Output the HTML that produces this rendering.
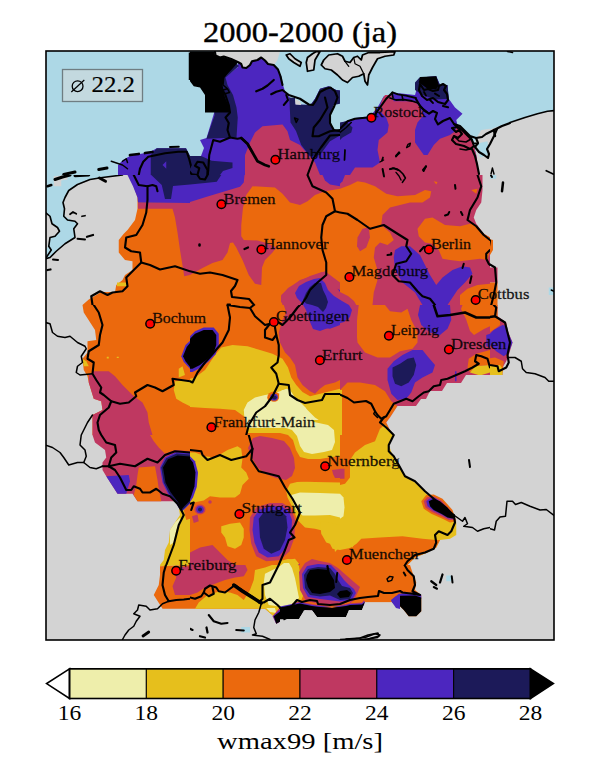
<!DOCTYPE html>
<html><head><meta charset="utf-8"><title>map</title>
<style>html,body{margin:0;padding:0;background:#fff;}svg{display:block;}text{font-family:"Liberation Serif",serif;fill:#000;}</style></head>
<body><svg width="600" height="780" viewBox="0 0 600 780">
<defs><clipPath id="ax"><rect x="46" y="51" width="508" height="589"/></clipPath>
<clipPath id="c40_45"><rect x="40" y="45" width="150" height="130"/></clipPath>
<clipPath id="c40_175"><rect x="40" y="175" width="150" height="130"/></clipPath>
<clipPath id="c40_305"><rect x="40" y="305" width="150" height="130"/></clipPath>
<clipPath id="c40_435"><rect x="40" y="435" width="150" height="130"/></clipPath>
<clipPath id="c40_520"><rect x="40" y="565" width="150" height="85"/></clipPath>
<clipPath id="c190_45"><rect x="190" y="45" width="150" height="130"/></clipPath>
<clipPath id="c190_175"><rect x="190" y="175" width="150" height="130"/></clipPath>
<clipPath id="c190_305"><rect x="190" y="305" width="150" height="130"/></clipPath>
<clipPath id="c190_435"><rect x="190" y="435" width="150" height="130"/></clipPath>
<clipPath id="c190_520"><rect x="190" y="565" width="150" height="85"/></clipPath>
<clipPath id="c340_45"><rect x="340" y="45" width="150" height="130"/></clipPath>
<clipPath id="c340_175"><rect x="340" y="175" width="150" height="130"/></clipPath>
<clipPath id="c340_305"><rect x="340" y="305" width="150" height="130"/></clipPath>
<clipPath id="c340_435"><rect x="340" y="435" width="150" height="130"/></clipPath>
<clipPath id="c340_520"><rect x="340" y="565" width="150" height="85"/></clipPath>
<clipPath id="c450_45"><rect x="490" y="45" width="110" height="130"/></clipPath>
<clipPath id="c450_175"><rect x="490" y="175" width="110" height="130"/></clipPath>
<clipPath id="c450_305"><rect x="490" y="305" width="110" height="130"/></clipPath>
<clipPath id="c450_435"><rect x="490" y="435" width="110" height="130"/></clipPath></defs>
<rect width="600" height="780" fill="#fff"/>
<rect x="46" y="51" width="508" height="589" fill="#d3d3d3"/>
<g clip-path="url(#ax)">
<g clip-path="url(#c40_45)"><g transform="translate(40,45) scale(0.25)">
<rect x="-4" y="-4" width="608" height="528" fill="#add8e6"/>
<polygon points="312,520 312,480 332,460 360,444 440,428 467,413 584,413 600,444 600,520" fill="#4c26bf"/>
<polygon points="443,520 443,440 467,413 584,413 600,444 600,520" fill="#1c1a59"/>
<polygon points="490,480 505,465 505,495" fill="#4c26bf"/>
<polygon points="595,30 600,30 600,140 595,140" fill="#000000"/>
</g></g>
<g clip-path="url(#c40_175)"><g transform="translate(40,175) scale(0.25)">
<rect x="-4" y="-4" width="608" height="528" fill="#d3d3d3"/>
<polygon points="22,0 330,0 260,8 200,18 150,35 115,60 98,90 95,130 100,165 135,185 150,192 135,215 140,250 100,275 60,310 30,335 22,340" fill="#add8e6"/>
<polygon points="22,150 40,165 45,195 70,205 78,225 60,245 40,250 30,290 22,300" fill="#d3d3d3"/>
<polygon points="55,5 110,0 110,18 85,22 85,45 55,45" fill="#d3d3d3"/>
<polygon points="370,0 375,45 390,90 390,135 380,180 350,220 335,235 315,260 315,310 340,340 370,345 370,380 340,400 330,420 305,440 300,468 245,468 195,498 170,520 600,520 600,0" fill="#eb690d"/>
<polygon points="392,110 600,110 600,400 577,405 560,300 550,230 540,170 530,135 392,135" fill="#bf3861"/>
<polygon points="350,0 372,45 390,90 392,110 600,112 600,0" fill="#4c26bf"/>
<polygon points="445,0 487,40 500,96 524,96 532,44 600,38 600,0" fill="#1c1a59"/>
<polygon points="308,430 350,430 350,445 308,445" fill="#e6bf1c"/>
</g></g>
<g clip-path="url(#c40_305)"><g transform="translate(40,305) scale(0.25)">
<rect x="-4" y="-4" width="608" height="528" fill="#d3d3d3"/>
<polygon points="170,0 175,30 220,100 225,140 190,145 190,190 170,215 175,260 190,285 195,310 215,375 245,385 250,420 210,440 210,520 600,520 600,0" fill="#eb690d"/>
<polygon points="195,280 215,265 275,265 300,285 330,320 370,360 410,390 430,430 435,470 450,520 210,520 210,440 250,420 245,385 215,375 195,310" fill="#bf3861"/>
<polygon points="540,305 600,300 600,405 570,390 545,375 535,340" fill="#e6bf1c"/>
<polygon points="555,255 570,245 580,280 555,290" fill="#e6bf1c"/>
<polygon points="582,160 600,143 600,255 575,228 565,205" fill="#4c26bf"/>
<polygon points="587,168 600,152 600,248 582,225 572,205" fill="#000000"/>
<polygon points="170,215 185,225 195,245 175,245" fill="#e6bf1c"/>
<polygon points="267,207 275,207 275,214 267,214" fill="#e6bf1c"/>
<polygon points="307,207 315,207 315,212 307,212" fill="#e6bf1c"/>
</g></g>
<g clip-path="url(#c40_435)"><g transform="translate(40,435) scale(0.25)">
<rect x="-4" y="-4" width="608" height="528" fill="#d3d3d3"/>
<polygon points="210,0 220,30 260,60 265,90 250,110 250,140 265,165 310,235 370,235 390,265 555,265 600,265 600,0" fill="#bf3861"/>
<polygon points="440,0 600,0 600,65 540,60 500,75 475,50 455,25" fill="#eb690d"/>
<polygon points="395,130 460,125 470,180 475,215 485,265 390,265 375,240 385,200 390,160" fill="#eb690d"/>
<polygon points="265,165 355,160 360,185 345,235 310,235" fill="#4c26bf"/>
<polygon points="555,290 600,265 600,520 480,520 495,500 500,460 515,430 520,380 540,350 560,320" fill="#e6bf1c"/>
<polygon points="520,380 540,350 560,330 565,345 545,380 535,430 520,440" fill="#eeeeab"/>
<polygon points="575,300 600,275 600,335 585,340" fill="#eb690d"/>
<polygon points="480,130 500,90 545,68 600,72 600,275 580,295 565,308 545,275 512,235 490,190" fill="#4c26bf"/>
<polygon points="485,130 505,93 547,74 600,78 600,270 580,290 565,304 548,272 516,232 495,190" fill="#1c1a59"/>
<polygon points="492,130 512,97 550,82 600,86 600,262 580,282 566,298 552,268 522,228 502,190" fill="#000000"/>
</g></g>
<g clip-path="url(#c40_520)"><g transform="translate(40,520) scale(0.25)">
<rect x="-4" y="-4" width="608" height="528" fill="#d3d3d3"/>
<polygon points="520,40 545,10 560,0 600,0 600,180 480,185 485,150 500,120 515,80" fill="#e6bf1c"/>
<polygon points="480,185 600,180 600,355 490,355 455,300 475,260 480,220" fill="#eb690d"/>
<polygon points="530,190 600,185 600,300 540,300 530,265 545,230 535,205" fill="#bf3861"/>
</g></g>
<g clip-path="url(#c190_45)"><g transform="translate(190,45) scale(0.25)">
<rect x="-4" y="-4" width="608" height="528" fill="#add8e6"/>
<polygon points="95,26 360,26 350,60 335,82 312,76 300,62 285,50 270,60 245,62 240,80 225,92 210,90 205,75 195,68 165,55 135,45 120,50 100,40" fill="#d3d3d3"/>
<polygon points="192,70 205,76 210,90 225,92 240,80 248,65 270,60 285,50 300,62 312,76 335,80 352,100 365,125 372,160 380,185 400,212 420,212 422,238 482,240 500,215 520,175 555,165 585,180 600,182 600,520 0,520 0,444 44,444 56,412 40,380 66,372 140,128 192,88" fill="#4c26bf"/>
<polygon points="178,66 196,84 142,130 150,160 172,200 186,250 191,290 186,370 66,375 98,283 98,200 120,100" fill="#1c1a59"/>
<polygon points="0,26 97,26 100,40 120,50 135,48 165,58 192,70 165,100 135,130 135,150 130,160 140,210 160,255 160,270 60,270 60,200 40,170 15,165 0,145" fill="#000000"/>
<polygon points="0,444 44,444 87,463 170,470 170,492 132,504 120,520 0,520" fill="#1c1a59"/>
<polygon points="220,520 220,440 240,390 260,350 290,325 370,318 390,345 400,380 440,400 465,430 500,470 520,520" fill="#bf3861"/>
<polygon points="397,210 420,212 422,238 482,240 500,215 520,175 555,165 585,180 600,182 600,362 560,385 520,440 480,445 445,400 424,344 402,310" fill="#1c1a59"/>
<polygon points="600,235 575,240 560,280 565,320 580,340 600,340" fill="#add8e6"/>
<polygon points="420,215 440,225 445,240 422,238" fill="#d3d3d3"/>
</g></g>
<g clip-path="url(#c190_175)"><g transform="translate(190,175) scale(0.25)">
<rect x="-4" y="-4" width="608" height="528" fill="#bf3861"/>
<polygon points="250,45 340,50 370,75 400,110 440,120 470,105 500,80 540,65 600,55 600,520 0,520 0,400 50,372 90,352 130,340 150,310 160,272 172,270 185,290 210,340 235,400 260,435 285,440 288,370 300,340 330,310 345,290 300,270 270,262 215,260 205,245 205,200 212,130 225,80" fill="#eb690d"/>
<polygon points="0,0 218,0 215,30 200,47 67,87 0,108" fill="#4c26bf"/>
<polygon points="0,0 125,0 107,27 60,32 0,38" fill="#1c1a59"/>
<polygon points="530,0 600,0 600,45 560,38 540,22" fill="#4c26bf"/>
<polygon points="370,520 365,480 400,450 440,420 500,400 540,385 560,400 600,430 600,520" fill="#bf3861"/>
<polygon points="420,470 450,440 490,415 530,400 545,420 575,450 600,460 600,520 440,520 425,490" fill="#4c26bf"/>
<polygon points="440,480 470,445 520,420 545,445 555,470 600,490 600,520 455,520" fill="#1c1a59"/>
</g></g>
<g clip-path="url(#c190_305)"><g transform="translate(190,305) scale(0.25)">
<rect x="-4" y="-4" width="608" height="528" fill="#eb690d"/>
<polygon points="0,295 20,290 60,260 100,200 125,170 170,160 230,165 280,180 330,195 370,215 392,250 405,290 425,320 450,348 480,365 520,355 560,345 600,335 600,520 225,520 225,480 215,445 180,420 120,415 60,412 0,408" fill="#e6bf1c"/>
<polygon points="215,420 230,390 260,370 300,360 330,355 360,345 385,335 400,340 420,370 440,390 470,420 500,450 530,470 560,480 575,496 240,496 222,470" fill="#eeeeab"/>
<polygon points="225,514 600,514 600,520 225,520" fill="#eb690d"/>
<polygon points="375,0 385,30 370,60 355,110 360,150 380,190 400,210 420,240 430,290 450,320 480,345 500,355 520,335 540,320 580,310 600,300 600,0" fill="#bf3861"/>
<polygon points="480,0 600,0 600,80 560,95 520,90 490,70 480,40" fill="#4c26bf"/>
<polygon points="510,0 545,0 535,15 520,12" fill="#1c1a59"/>
<polygon points="0,125 20,105 55,90 95,90 115,115 115,160 102,198 75,225 45,250 10,268 0,268" fill="#4c26bf"/>
<polygon points="0,135 20,115 55,100 90,100 105,120 105,160 95,190 70,215 40,240 10,255 0,255" fill="#000000"/>
<ellipse cx="335" cy="370" rx="26" ry="24" fill="#eb690d" transform="rotate(0 335 370)"/>
<ellipse cx="335" cy="370" rx="19" ry="17" fill="#4c26bf" transform="rotate(0 335 370)"/>
<ellipse cx="335" cy="372" rx="12" ry="10" fill="#1c1a59" transform="rotate(0 335 372)"/>
</g></g>
<g clip-path="url(#c190_435)"><g transform="translate(190,435) scale(0.25)">
<rect x="-4" y="-4" width="608" height="528" fill="#eb690d"/>
<polygon points="20,70 60,85 100,90 150,60 190,45 205,55 210,95 205,130 225,150 235,175 210,200 200,235 180,250 120,250 80,245 55,262 25,268 0,275 0,70" fill="#e6bf1c"/>
<polygon points="395,0 600,0 600,110 560,105 520,110 470,100 440,110 420,90 410,50" fill="#e6bf1c"/>
<polygon points="425,0 580,0 575,40 560,70 500,85 460,75 440,50" fill="#eeeeab"/>
<polygon points="385,225 400,195 440,185 500,188 600,190 600,460 570,455 552,420 540,385 500,375 460,370 430,340 410,290 390,250" fill="#e6bf1c"/>
<polygon points="405,240 440,230 520,232 600,235 600,330 560,320 500,322 450,322 425,300 410,265" fill="#eeeeab"/>
<polygon points="520,345 560,350 600,360 600,420 575,440 545,430 525,395" fill="#e6bf1c"/>
<polygon points="125,365 160,355 200,350 215,375 215,410 205,440 180,455 150,445 140,410 125,390" fill="#e6bf1c"/>
<polygon points="360,520 380,500 420,495 440,520" fill="#e6bf1c"/>
<polygon points="245,20 280,5 340,5 390,30 410,70 415,130 400,165 360,170 310,150 275,130 255,90 240,55" fill="#bf3861"/>
<polygon points="240,330 265,290 320,272 370,272 405,295 420,340 418,410 398,465 362,500 305,505 265,485 245,435 238,380" fill="#bf3861"/>
<polygon points="255,330 275,300 320,285 365,285 395,305 408,340 405,400 385,450 355,485 310,490 275,470 258,430 250,380" fill="#4c26bf"/>
<polygon points="275,335 295,310 330,300 365,305 385,325 390,370 380,420 360,460 325,475 295,455 280,410" fill="#1c1a59"/>
<polygon points="0,85 20,105 32,150 27,208 12,250 0,268" fill="#4c26bf"/>
<polygon points="0,95 12,110 22,150 18,205 5,245 0,258" fill="#000000"/>
<ellipse cx="40" cy="298" rx="22" ry="20" fill="#bf3861" transform="rotate(0 40 298)"/>
<ellipse cx="40" cy="298" rx="15" ry="14" fill="#4c26bf" transform="rotate(0 40 298)"/>
<ellipse cx="40" cy="298" rx="8" ry="8" fill="#1c1a59" transform="rotate(0 40 298)"/>
<ellipse cx="80" cy="268" rx="7" ry="7" fill="#bf3861" transform="rotate(0 80 268)"/>
<polygon points="8,325 30,318 35,345 15,352" fill="#bf3861"/>
<polygon points="0,470 40,450 90,440 120,470 150,500 180,520 0,520" fill="#bf3861"/>
<polygon points="565,140 600,135 600,165 575,160" fill="#bf3861"/>
<polygon points="430,520 460,500 520,505 540,520" fill="#bf3861"/>
</g></g>
<g clip-path="url(#c190_520)"><g transform="translate(190,520) scale(0.25)">
<rect x="-4" y="-4" width="608" height="528" fill="#d3d3d3"/>
<polygon points="0,0 600,0 600,385 510,385 490,362 460,360 440,385 380,395 345,415 335,385 300,355 0,355" fill="#eb690d"/>
<polygon points="0,120 20,120 50,100 80,95 100,120 120,140 170,150 215,165 230,200 215,225 180,230 140,240 100,255 60,270 30,290 0,300" fill="#bf3861"/>
<polygon points="125,30 150,10 210,5 215,40 205,75 190,100 165,105 150,70 130,55" fill="#e6bf1c"/>
<polygon points="20,355 35,330 70,300 120,285 160,290 190,300 215,320 240,280 255,240 260,200 300,190 370,165 400,170 420,200 430,240 440,290 440,330 400,340 360,365 335,385 300,355" fill="#e6bf1c"/>
<polygon points="300,215 330,200 370,180 395,185 405,220 415,260 425,300 420,325 390,340 350,345 315,340 300,300 295,250" fill="#eeeeab"/>
<polygon points="305,352 340,352 345,372 320,368" fill="#eeeeab"/>
<polygon points="235,0 420,0 415,60 400,120 370,155 320,160 270,145 245,100 235,50" fill="#bf3861"/>
<polygon points="255,0 410,0 405,60 390,110 360,145 320,150 280,130 260,90 255,40" fill="#4c26bf"/>
<polygon points="280,0 400,0 395,50 380,100 355,135 325,140 300,115 285,70" fill="#1c1a59"/>
<polygon points="440,0 600,0 600,135 585,130 575,80 560,45 500,35 460,40" fill="#e6bf1c"/>
<polygon points="445,215 480,185 540,178 575,172 600,168 600,330 540,330 490,318 455,290 442,250" fill="#bf3861"/>
<polygon points="453,215 485,192 540,186 575,180 600,176 600,322 545,322 495,310 462,285 450,250" fill="#4c26bf"/>
<polygon points="460,213 490,198 540,193 575,187 600,183 600,314 548,314 498,303 468,280 458,250" fill="#1c1a59"/>
<polygon points="470,212 500,198 540,202 560,215 575,197 600,192 600,302 560,302 520,306 490,292 470,262" fill="#000000"/>
<polygon points="330,385 355,355 400,328 440,316 500,318 560,326 600,330 600,385 510,385 490,362 460,360 440,385 380,395 345,415" fill="#bf3861"/>
<polygon points="332,385 358,360 400,334 440,323 500,325 560,332 600,336 600,385 510,385 490,362 460,360 440,385 380,395 345,415" fill="#4c26bf"/>
<polygon points="335,385 360,366 400,341 440,331 500,334 560,340 600,345 600,385 510,385 490,362 460,360 440,385 380,395 345,415" fill="#000000"/>
<polygon points="205,428 240,428 240,450 205,450" fill="#add8e6"/>
</g></g>
<g clip-path="url(#c340_45)"><g transform="translate(340,45) scale(0.25)">
<rect x="-4" y="-4" width="608" height="528" fill="#add8e6"/>
<polygon points="565,340 600,335 600,520 550,520 545,440 540,380" fill="#d3d3d3"/>
<polygon points="545,395 590,385 595,440 560,450" fill="#add8e6"/>
<polygon points="0,312 25,305 60,292 120,285 150,250 175,205 200,200 210,190 300,200 320,130 385,125 400,160 430,160 435,215 460,250 490,275 465,300 470,320 500,345 520,370 535,400 545,440 555,520 0,520" fill="#4c26bf"/>
<polygon points="0,310 25,305 50,330 45,350 10,370 0,380" fill="#1c1a59"/>
<polygon points="170,215 180,200 205,200 215,225 300,225 320,250 335,280 310,310 300,340 300,390 335,440 350,440 375,400 400,375 440,360 460,345 470,320 500,345 520,370 535,400 545,440 555,520 40,520 60,490 130,490 160,470 150,420 155,380 190,350 195,320 185,290 155,260" fill="#bf3861"/>
<polygon points="318,130 385,125 400,160 430,160 435,215 380,218 330,200 300,180 300,150" fill="#1c1a59"/>
<polygon points="320,128 385,125 395,160 385,178 350,175 330,160 315,150" fill="#000000"/>
</g></g>
<g clip-path="url(#c340_175)"><g transform="translate(340,175) scale(0.25)">
<rect x="-4" y="-4" width="608" height="528" fill="#bf3861"/>
<polygon points="570,0 600,0 600,250 575,235 545,195 535,170 545,140 565,110 570,60" fill="#d3d3d3"/>
<polygon points="0,55 40,40 70,25 100,30 140,45 185,75 230,85 300,80 340,60 365,65 360,90 330,110 280,110 240,120 200,130 170,160 165,200 200,230 215,260 190,280 160,270 140,290 135,330 150,380 150,420 135,470 130,520 0,520" fill="#eb690d"/>
<polygon points="70,250 90,215 115,210 120,250 105,290 80,305 68,285" fill="#bf3861"/>
<polygon points="310,215 340,175 370,170 420,200 480,205 520,195 545,200 575,235 600,250 600,300 590,340 560,335 520,340 480,345 440,340 410,335 395,300 370,275 340,270 315,245" fill="#eb690d"/>
<polygon points="480,520 480,480 510,455 550,440 600,435 600,520" fill="#eb690d"/>
<polygon points="220,300 245,285 280,285 320,320 340,360 360,400 385,440 410,410 450,380 490,365 520,370 530,395 500,430 470,460 450,490 430,520 330,520 300,470 250,430 220,380 215,330" fill="#4c26bf"/>
<polygon points="0,0 20,0 10,25 0,35" fill="#4c26bf"/>
<polygon points="375,25 390,28 385,38" fill="#eb690d"/>
<polygon points="525,60 550,55 545,75" fill="#eb690d"/>
</g></g>
<g clip-path="url(#c340_305)"><g transform="translate(340,305) scale(0.25)">
<rect x="-4" y="-4" width="608" height="528" fill="#bf3861"/>
<polygon points="75,0 180,0 200,25 245,30 270,15 285,60 310,110 310,150 290,175 240,185 200,210 150,210 100,190 70,150 65,100 70,40" fill="#eb690d"/>
<polygon points="490,0 600,0 600,85 576,96 536,120 520,104 504,56 484,16" fill="#eb690d"/>
<polygon points="0,340 30,310 80,310 140,320 180,345 205,385 230,405 200,450 185,470 200,500 215,520 0,520" fill="#eb690d"/>
<polygon points="0,340 8,340 8,520 0,520" fill="#e6bf1c"/>
<polygon points="515,215 545,195 600,180 600,240 540,245 520,270 510,250" fill="#eb690d"/>
<polygon points="520,270 540,245 600,240 600,270 560,282" fill="#e6bf1c"/>
<polygon points="190,255 215,225 250,200 290,180 330,180 350,205 380,240 370,270 330,290 300,310 285,350 265,375 230,380 205,355 190,300" fill="#4c26bf"/>
<polygon points="210,250 240,235 270,215 295,210 305,240 295,280 275,310 245,325 220,315 210,285" fill="#1c1a59"/>
<polygon points="320,0 440,0 445,60 430,95 400,120 360,110 325,80 312,40" fill="#4c26bf"/>
<polygon points="0,0 40,0 45,40 30,65 0,75" fill="#4c26bf"/>
<polygon points="585,120 600,115 600,170 585,165" fill="#4c26bf"/>
<polygon points="600,280 504,280 484,312 428,312 408,344 360,344 344,376 324,376 304,404 230,404 200,450 185,470 200,500 215,520 600,520" fill="#d3d3d3"/>
<polygon points="180,478 215,520 150,520 160,495" fill="#e6bf1c"/>
<polygon points="460,265 466,265 466,305 460,305" fill="#4c26bf"/>
</g></g>
<g clip-path="url(#c340_435)"><g transform="translate(340,435) scale(0.25)">
<rect x="-4" y="-4" width="608" height="528" fill="#d3d3d3"/>
<polygon points="0,0 215,0 195,40 210,80 230,110 255,160 300,190 340,230 375,260 420,290 450,320 465,350 465,400 440,415 400,420 385,450 350,470 300,490 270,520 0,520" fill="#e6bf1c"/>
<polygon points="0,0 150,0 140,25 100,40 60,70 40,100 40,170 20,195 0,200" fill="#eb690d"/>
<polygon points="0,135 18,135 18,175 0,175" fill="#bf3861"/>
<polygon points="0,235 14,250 18,290 14,325 0,335" fill="#eeeeab"/>
<polygon points="0,460 40,452 66,435 85,415 160,410 250,405 330,415 385,420 400,420 385,450 350,470 300,490 270,520 0,520" fill="#eb690d"/>
<polygon points="325,265 345,240 375,238 410,255 450,300 465,345 440,350 410,335 365,315 335,295" fill="#eb690d"/>
<polygon points="335,265 350,248 375,246 405,262 445,305 458,340 435,340 408,326 368,308 342,290" fill="#bf3861"/>
<polygon points="345,265 357,255 377,250 402,267 440,305 452,335 432,333 406,318 372,302 350,285" fill="#4c26bf"/>
<polygon points="355,265 375,255 400,265 430,290 450,315 455,335 430,330 405,315 375,300 360,285" fill="#000000"/>
</g></g>
<g clip-path="url(#c340_520)"><g transform="translate(340,520) scale(0.25)">
<rect x="-4" y="-4" width="608" height="528" fill="#d3d3d3"/>
<polygon points="0,0 465,0 465,60 440,75 400,80 385,110 350,130 300,150 280,180 290,210 305,250 300,280 325,300 325,365 305,385 275,385 255,360 235,340 225,330 100,330 85,350 30,355 20,385 0,385" fill="#eb690d"/>
<polygon points="0,205 25,212 60,240 82,272 65,305 45,325 0,330" fill="#bf3861"/>
<polygon points="0,215 20,225 50,250 70,275 60,300 40,320 0,325" fill="#4c26bf"/>
<polygon points="0,235 20,245 45,268 55,290 40,312 0,318" fill="#1c1a59"/>
<polygon points="0,275 30,280 48,295 40,310 0,315" fill="#000000"/>
<polygon points="0,330 40,320 50,340 85,340 85,350 30,358 20,385 0,385" fill="#000000"/>
<polygon points="205,322 235,295 300,290 325,298 325,315 210,330" fill="#4c26bf"/>
<polygon points="210,320 240,303 300,302 325,310 325,365 305,385 275,385 255,360 235,340 215,335" fill="#000000"/>
<polygon points="425,222 445,222 445,245 425,245" fill="#add8e6"/>
</g></g>
<g clip-path="url(#c450_45)"><g transform="translate(450,45) scale(0.25)">
<rect x="-4" y="-4" width="608" height="528" fill="#add8e6"/>
<polygon points="100,375 130,350 180,330 240,310 300,290 350,275 390,265 420,262 420,520 100,520" fill="#d3d3d3"/>
</g></g>
<g clip-path="url(#c450_175)"><g transform="translate(450,175) scale(0.25)">
<rect x="-4" y="-4" width="608" height="528" fill="#d3d3d3"/>
<polygon points="150,370 190,370 190,430 150,430" fill="#bf3861"/>
<polygon points="150,255 172,260 172,300 160,320 150,320" fill="#eb690d"/>
<polygon points="150,430 190,430 190,520 150,520" fill="#eb690d"/>
<polygon points="160,0 185,0 185,15 160,15" fill="#add8e6"/>
<polygon points="395,450 416,450 416,480 395,480" fill="#add8e6"/>
</g></g>
<g clip-path="url(#c450_305)"><g transform="translate(450,305) scale(0.25)">
<rect x="-4" y="-4" width="608" height="528" fill="#d3d3d3"/>
<polygon points="150,0 190,0 190,45 225,70 230,100 250,150 235,200 225,225 210,250 210,280 150,280" fill="#bf3861"/>
<polygon points="150,0 190,0 190,45 200,55 200,80 180,95 150,115" fill="#eb690d"/>
<polygon points="145,130 175,100 210,80 228,85 232,110 250,150 235,190 215,205 185,185 160,160" fill="#4c26bf"/>
<polygon points="150,215 180,210 215,225 210,270 150,270" fill="#eb690d"/>
<polygon points="85,245 200,240 210,255 210,280 80,280" fill="#e6bf1c"/>
</g></g>
<g clip-path="url(#c450_435)"><g transform="translate(450,435) scale(0.25)">
<rect x="-4" y="-4" width="608" height="528" fill="#d3d3d3"/>
</g></g>
<g><g transform="translate(280,540) scale(0.2)">
<polygon points="100,90 420,90 420,322 410,322 350,325 330,330 260,340 200,335 160,330 100,318" fill="#eb690d"/>
<polygon points="0,105 40,95 70,100 95,130 100,170 105,230 115,280 100,318 60,325 0,340" fill="#e6bf1c"/>
<polygon points="0,130 20,115 45,115 60,140 75,190 85,240 95,290 60,320 30,338 0,338" fill="#eeeeab"/>
<polygon points="265,0 330,0 275,60" fill="#e6bf1c"/>
<polygon points="350,0 385,0 360,40" fill="#e6bf1c"/>
<polygon points="95,160 125,115 160,95 200,105 250,115 290,140 330,175 370,210 400,235 385,270 370,300 350,318 300,322 200,322 130,305 100,250" fill="#bf3861"/>
<polygon points="110,170 135,130 190,120 255,125 290,160 320,200 345,225 370,245 380,265 360,300 300,308 200,295 140,285 115,240" fill="#4c26bf"/>
<polygon points="120,175 140,145 190,135 250,140 275,170 290,200 310,230 350,240 365,265 350,295 300,300 250,278 200,283 150,275 125,240" fill="#1c1a59"/>
<polygon points="135,175 150,150 190,145 240,150 255,175 270,200 275,240 250,260 200,270 160,265 140,235 130,200" fill="#000000"/>
<polygon points="285,270 300,255 335,250 355,265 345,285 300,290" fill="#000000"/>
<polygon points="100,300 160,312 200,318 260,322 330,312 350,308 350,330 100,330" fill="#eb690d"/>
<polygon points="60,318 100,308 160,320 200,326 260,330 330,320 350,316 410,312 420,300 425,322 60,340" fill="#bf3861"/>
<polygon points="0,332 60,320 100,312 160,325 200,330 260,335 330,325 350,320 410,317 422,305 425,330 0,345" fill="#4c26bf"/>
<polygon points="0,338 60,325 100,318 160,330 200,335 260,340 330,330 350,325 410,322 425,310 410,350 345,350 330,385 185,385 160,350 120,350 95,395 0,395" fill="#000000"/>
<polygon points="0,396 95,396 120,351 160,351 185,386 330,386 345,351 410,351 425,311 560,311 580,340 600,350 600,520 0,520" fill="#d3d3d3"/>
<polygon points="555,300 580,280 600,275 600,345 580,340 560,311" fill="#4c26bf"/>
</g></g>
<g><g transform="translate(280,250) scale(0.2)">
<polygon points="5,230 40,190 90,160 150,130 210,110 240,125 265,165 300,210 340,230 370,255 390,290 385,330 385,450 300,450 300,275 19,275 5,260" fill="#bf3861"/>
<polygon points="75,215 95,180 130,160 170,145 200,140 225,165 240,200 270,230 310,255 345,275 360,300 350,335 320,360 270,375 240,390 200,405 165,395 150,360 130,300 110,265 85,240" fill="#4c26bf"/>
<polygon points="115,250 130,215 150,185 175,165 205,165 215,200 230,230 240,260 230,290 215,310 190,285 160,275 130,268" fill="#1c1a59"/>
</g></g>
<g><g transform="translate(390,70) scale(0.2)">
</g></g>
<g><g transform="translate(220,390) scale(0.2)">
<polygon points="130,190 600,190 600,450 380,460 330,455 190,400 140,300" fill="#eb690d"/>
<polygon points="130,185 330,185 360,150 600,150 600,330 560,335 500,345 440,345 400,335 380,300 365,250 340,225 300,215 140,215" fill="#e6bf1c"/>
<polygon points="120,110 135,70 170,50 220,30 240,50 280,55 300,20 310,0 345,0 350,40 400,60 430,90 440,130 470,160 540,175 570,200 575,260 560,300 520,310 460,320 420,310 400,280 385,230 360,200 330,190 250,190 135,190 125,150" fill="#eeeeab"/>
<polygon points="150,270 165,240 200,230 260,240 320,255 350,290 370,340 375,390 360,430 330,450 280,440 230,420 190,390 160,340 140,290" fill="#bf3861"/>
<ellipse cx="270" cy="35" rx="26" ry="24" fill="#eb690d" transform="rotate(0 270 35)"/>
<ellipse cx="270" cy="36" rx="19" ry="17" fill="#4c26bf" transform="rotate(0 270 36)"/>
<ellipse cx="272" cy="37" rx="12" ry="10" fill="#1c1a59" transform="rotate(0 272 37)"/>
<polygon points="560,400 600,395 600,440 575,440 565,420" fill="#bf3861"/>
</g></g>
<g><g transform="translate(320,160) scale(0.2)">
</g></g>
<g clip-path="url(#c40_45)"><g transform="translate(40,45) scale(0.25)">
<polyline points="285,465 330,480 350,495" fill="none" stroke="#000" stroke-width="6" stroke-linejoin="round" stroke-linecap="round"/>
<polyline points="95,518 140,508" fill="none" stroke="#000" stroke-width="12" stroke-linejoin="round" stroke-linecap="round"/>
<polyline points="235,498 268,492" fill="none" stroke="#000" stroke-width="12" stroke-linejoin="round" stroke-linecap="round"/>
<polyline points="360,440 395,436" fill="none" stroke="#000" stroke-width="11" stroke-linejoin="round" stroke-linecap="round"/>
<polyline points="420,432 450,428" fill="none" stroke="#000" stroke-width="11" stroke-linejoin="round" stroke-linecap="round"/>
<polyline points="520,408 555,407" fill="none" stroke="#000" stroke-width="8" stroke-linejoin="round" stroke-linecap="round"/>
<polyline points="330,465 345,455 350,470" fill="none" stroke="#000" stroke-width="6" stroke-linejoin="round" stroke-linecap="round"/>
<polyline points="400,495 413,467 433,447 467,440 500,433 553,427 587,427 597,457 603,480" fill="none" stroke="#000" stroke-width="8.48" stroke-linejoin="round" stroke-linecap="round"/>
<polyline points="395,520 400,495" fill="none" stroke="#000" stroke-width="8.48" stroke-linejoin="round" stroke-linecap="round"/>
</g></g>
<g clip-path="url(#c40_175)"><g transform="translate(40,175) scale(0.25)">
<polyline points="330,0 250,10 200,18 150,38 115,62 100,90 92,110 98,135 95,165 110,180 140,185 150,195 135,215 140,250 100,275 65,305 40,330 22,335" fill="none" stroke="#000" stroke-width="6.5" stroke-linejoin="round" stroke-linecap="round"/>
<polyline points="120,157 132,148 145,155" fill="none" stroke="#000" stroke-width="7" stroke-linejoin="round" stroke-linecap="round"/>
<polyline points="168,165 180,163" fill="none" stroke="#000" stroke-width="7" stroke-linejoin="round" stroke-linecap="round"/>
<polyline points="188,247 212,240" fill="none" stroke="#000" stroke-width="9" stroke-linejoin="round" stroke-linecap="round"/>
<polyline points="150,255 180,258" fill="none" stroke="#000" stroke-width="8" stroke-linejoin="round" stroke-linecap="round"/>
<polyline points="52,338 72,340" fill="none" stroke="#000" stroke-width="8" stroke-linejoin="round" stroke-linecap="round"/>
<polyline points="30,380 42,378" fill="none" stroke="#000" stroke-width="9" stroke-linejoin="round" stroke-linecap="round"/>
<polyline points="238,12 262,25" fill="none" stroke="#000" stroke-width="12" stroke-linejoin="round" stroke-linecap="round"/>
<polyline points="30,45 45,40" fill="none" stroke="#000" stroke-width="10" stroke-linejoin="round" stroke-linecap="round"/>
<polyline points="60,18 90,8 120,0" fill="none" stroke="#000" stroke-width="12" stroke-linejoin="round" stroke-linecap="round"/>
<polyline points="140,3 195,0" fill="none" stroke="#000" stroke-width="12" stroke-linejoin="round" stroke-linecap="round"/>
<polyline points="22,150 40,165 48,195 70,210 78,225 60,245 40,250 35,285 45,300 25,330" fill="none" stroke="#000" stroke-width="6.5" stroke-linejoin="round" stroke-linecap="round"/>
<polyline points="375,0 395,40 430,45 430,100 425,150 410,200 385,240 345,250 340,290 365,305 400,310 405,350 370,385 345,410 350,445 330,465 290,470 270,480 240,465 205,485 210,520" fill="none" stroke="#000" stroke-width="8.48" stroke-linejoin="round" stroke-linecap="round"/>
<polyline points="430,45 450,40 465,45 470,65" fill="none" stroke="#000" stroke-width="8.48" stroke-linejoin="round" stroke-linecap="round"/>
<polyline points="405,350 440,360 480,378 540,365 600,385" fill="none" stroke="#000" stroke-width="8.48" stroke-linejoin="round" stroke-linecap="round"/>
</g></g>
<g clip-path="url(#c40_305)"><g transform="translate(40,305) scale(0.25)">
<polyline points="22,70 40,75 50,110 70,125 100,130 120,125 150,150 180,165 185,175 165,205 170,230 150,245 145,270 160,280 210,275" fill="none" stroke="#000" stroke-width="6" stroke-linejoin="round" stroke-linecap="round"/>
<polyline points="215,0 235,30 250,80 240,120 235,160 195,185 190,215 215,230 210,275 225,300 245,330 240,350 255,360 285,385 320,395 355,390 385,365 380,350 430,320 460,330 490,345 535,320 530,295 600,305" fill="none" stroke="#000" stroke-width="8.48" stroke-linejoin="round" stroke-linecap="round"/>
<polyline points="285,385 275,410 240,440 230,470 235,500 245,520" fill="none" stroke="#000" stroke-width="8.48" stroke-linejoin="round" stroke-linecap="round"/>
<polyline points="210,440 190,470 175,500 165,520" fill="none" stroke="#000" stroke-width="6" stroke-linejoin="round" stroke-linecap="round"/>
</g></g>
<g clip-path="url(#c40_435)"><g transform="translate(40,435) scale(0.25)">
<polyline points="22,40 50,50 80,70 95,90 115,120 150,110 175,110 200,130 225,135 250,125" fill="none" stroke="#000" stroke-width="6" stroke-linejoin="round" stroke-linecap="round"/>
<polyline points="165,0 160,40 180,60 185,85 175,110" fill="none" stroke="#000" stroke-width="6" stroke-linejoin="round" stroke-linecap="round"/>
<polyline points="245,0 265,30 300,40 305,70 285,90 275,125 250,125" fill="none" stroke="#000" stroke-width="8.48" stroke-linejoin="round" stroke-linecap="round"/>
<polyline points="275,125 300,140 320,170 335,200 345,220 365,220 375,205 400,215 410,230 440,230 465,215 490,235 520,245 550,275 565,300 575,320 555,360 545,400 535,440 520,480 505,520" fill="none" stroke="#000" stroke-width="8.48" stroke-linejoin="round" stroke-linecap="round"/>
<polyline points="275,125 320,115 380,125 430,95 470,110 500,80 540,65 600,70" fill="none" stroke="#000" stroke-width="8.48" stroke-linejoin="round" stroke-linecap="round"/>
</g></g>
<g clip-path="url(#c40_520)"><g transform="translate(40,520) scale(0.25)">
<polyline points="580,0 560,25 545,60 530,110 510,160 495,210 490,260 500,300 515,325 545,320 575,318 600,315" fill="none" stroke="#000" stroke-width="8.48" stroke-linejoin="round" stroke-linecap="round"/>
<polyline points="515,325 490,335 470,355 440,360 425,345 395,340 390,360 375,375 400,385 385,405 375,425 355,440 340,460 330,478" fill="none" stroke="#000" stroke-width="6" stroke-linejoin="round" stroke-linecap="round"/>
<polyline points="412,464 435,448" fill="none" stroke="#000" stroke-width="11" stroke-linejoin="round" stroke-linecap="round"/>
</g></g>
<g clip-path="url(#c190_45)"><g transform="translate(190,45) scale(0.25)">
<polygon points="385,40 400,35 420,55 445,70 440,85 415,70 395,55" fill="#d3d3d3" stroke="#000" stroke-width="7" stroke-linejoin="round"/>
<polygon points="470,50 490,35 505,26 520,26 500,60 495,100 470,105 465,70" fill="#d3d3d3" stroke="#000" stroke-width="7" stroke-linejoin="round"/>
<polygon points="525,80 535,60 555,40 590,35 610,45 620,65 640,70 655,50 670,45 685,60 690,40 715,30 760,30 820,27 815,40 780,45 750,55 730,90 715,120 710,160 700,145 695,115 675,125 650,130 630,150 610,140 590,120 565,100 540,95" fill="#d3d3d3" stroke="#000" stroke-width="7" stroke-linejoin="round"/>
<polyline points="100,28 102,42 120,50 135,46 165,56 195,70 205,76 210,90 225,92 240,80 248,65 270,60 285,50 300,62 312,76 335,80 352,98 362,125 370,160" fill="none" stroke="#000" stroke-width="8.48" stroke-linejoin="round" stroke-linecap="round"/>
<polyline points="265,185 290,175 310,162 335,140" fill="none" stroke="#000" stroke-width="9" stroke-linejoin="round" stroke-linecap="round"/>
<polyline points="325,197 345,187 370,180 395,200 440,215 475,238 492,240 505,220 520,188 545,175 562,170 580,185 590,210 577,245 560,280 560,312 575,340 600,345" fill="none" stroke="#000" stroke-width="8.48" stroke-linejoin="round" stroke-linecap="round"/>
<polyline points="385,200 392,220 375,240" fill="none" stroke="#000" stroke-width="8" stroke-linejoin="round" stroke-linecap="round"/>
<polyline points="540,210 550,250 520,300 495,330 490,365 515,365 560,345 600,340" fill="none" stroke="#000" stroke-width="8.48" stroke-linejoin="round" stroke-linecap="round"/>
<polyline points="418,292 432,297 425,310 418,292" fill="none" stroke="#000" stroke-width="6" stroke-linejoin="round" stroke-linecap="round"/>
<polyline points="178,68 160,95 135,130 132,160 150,175 158,190 140,195 132,180 150,175" fill="none" stroke="#000" stroke-width="6" stroke-linejoin="round" stroke-linecap="round"/>
<polyline points="140,195 155,240 160,270 142,290 155,312 150,340 160,370 190,375 205,372 230,395 250,430" fill="none" stroke="#000" stroke-width="8.48" stroke-linejoin="round" stroke-linecap="round"/>
<polyline points="205,372 230,395 250,430 270,465 300,480 315,485" fill="none" stroke="#000" stroke-width="11" stroke-linejoin="round" stroke-linecap="round"/>
<polyline points="160,370 120,387 93,380 77,440 73,500 70,525" fill="none" stroke="#000" stroke-width="8.48" stroke-linejoin="round" stroke-linecap="round"/>
<polyline points="-13,427 -3,457 3,480 -7,500 7,517 30,520 37,493 20,483 30,467 53,470 70,500 70,537" fill="none" stroke="#000" stroke-width="8.48" stroke-linejoin="round" stroke-linecap="round"/>
<polyline points="600,360 560,362 524,410 496,450 470,520" fill="none" stroke="#000" stroke-width="8.48" stroke-linejoin="round" stroke-linecap="round"/>
</g></g>
<g clip-path="url(#c190_175)"><g transform="translate(190,175) scale(0.25)">
<polyline points="30,0 40,15 60,18 70,0" fill="none" stroke="#000" stroke-width="8.48" stroke-linejoin="round" stroke-linecap="round"/>
<polyline points="470,0 490,45 545,70 570,95 580,145 600,150" fill="none" stroke="#000" stroke-width="8.48" stroke-linejoin="round" stroke-linecap="round"/>
<polyline points="580,145 545,165 530,200 525,250 530,300 545,350 545,400 510,430 480,460 465,490 445,520" fill="none" stroke="#000" stroke-width="8.48" stroke-linejoin="round" stroke-linecap="round"/>
<polyline points="0,385 40,395 80,390 130,400 190,420 180,444 164,464 168,488 236,496 258,522" fill="none" stroke="#000" stroke-width="8.48" stroke-linejoin="round" stroke-linecap="round"/>
<polyline points="38,278 38,282" fill="none" stroke="#000" stroke-width="10" stroke-linejoin="round" stroke-linecap="round"/>
<polyline points="218,296 232,290" fill="none" stroke="#000" stroke-width="9" stroke-linejoin="round" stroke-linecap="round"/>
<polyline points="150,518 160,518" fill="none" stroke="#000" stroke-width="8" stroke-linejoin="round" stroke-linecap="round"/>
</g></g>
<g clip-path="url(#c190_305)"><g transform="translate(190,305) scale(0.25)">
<polyline points="150,0 160,50 155,100 130,150 95,190 60,230 30,270 10,310 0,305" fill="none" stroke="#000" stroke-width="8.48" stroke-linejoin="round" stroke-linecap="round"/>
<polyline points="258,-2 240,12 200,8 150,0" fill="none" stroke="#000" stroke-width="8.48" stroke-linejoin="round" stroke-linecap="round"/>
<polyline points="240,12 260,45 300,80 320,75 340,60 370,80 400,50 430,10 440,0" fill="none" stroke="#000" stroke-width="8.48" stroke-linejoin="round" stroke-linecap="round"/>
<polyline points="320,75 300,100 300,130 330,140 345,120 340,90 340,60" fill="none" stroke="#000" stroke-width="8.48" stroke-linejoin="round" stroke-linecap="round"/>
<polyline points="345,120 355,160 355,200 350,230 325,250 345,275 355,315 395,320 400,360 430,380 460,392 528,380 540,356 608,356" fill="none" stroke="#000" stroke-width="8.48" stroke-linejoin="round" stroke-linecap="round"/>
<polyline points="355,315 330,365 300,405 265,430 235,480 225,520" fill="none" stroke="#000" stroke-width="8.48" stroke-linejoin="round" stroke-linecap="round"/>
</g></g>
<g clip-path="url(#c190_435)"><g transform="translate(190,435) scale(0.25)">
<polyline points="0,60 45,65 50,80 70,100 120,80 165,100 225,85 250,55" fill="none" stroke="#000" stroke-width="8.48" stroke-linejoin="round" stroke-linecap="round"/>
<polyline points="235,0 250,55 245,100 275,145 355,165 380,210 410,255 440,310 420,360 400,390 418,410 395,420 380,460 355,520" fill="none" stroke="#000" stroke-width="8.48" stroke-linejoin="round" stroke-linecap="round"/>
<polyline points="0,275 15,270 5,300" fill="none" stroke="#000" stroke-width="8.48" stroke-linejoin="round" stroke-linecap="round"/>
</g></g>
<g clip-path="url(#c190_520)"><g transform="translate(190,520) scale(0.25)">
<polyline points="425,0 410,50 415,70 395,85 375,140 350,190 320,250 290,260 290,315 275,330" fill="none" stroke="#000" stroke-width="8.48" stroke-linejoin="round" stroke-linecap="round"/>
<polyline points="0,310 20,315 45,305 55,290 60,275 80,262 105,270 115,285 140,290 160,275 180,260 200,275 230,295 260,315 280,330 295,330 320,315 350,340 360,350" fill="none" stroke="#000" stroke-width="8.48" stroke-linejoin="round" stroke-linecap="round"/>
<polyline points="55,290 75,305 95,295 90,270" fill="none" stroke="#000" stroke-width="8.48" stroke-linejoin="round" stroke-linecap="round"/>
<polyline points="175,260 210,285 250,310 285,332" fill="none" stroke="#000" stroke-width="14" stroke-linejoin="round" stroke-linecap="round"/>
<polyline points="285,335 275,370 260,400 255,430 265,455 250,460 290,465 320,478" fill="none" stroke="#000" stroke-width="6" stroke-linejoin="round" stroke-linecap="round"/>
<polyline points="75,380 95,405 125,415 150,412" fill="none" stroke="#000" stroke-width="8.48" stroke-linejoin="round" stroke-linecap="round"/>
<polyline points="185,440 215,442" fill="none" stroke="#000" stroke-width="8.48" stroke-linejoin="round" stroke-linecap="round"/>
<polyline points="66,430 70,450" fill="none" stroke="#000" stroke-width="9" stroke-linejoin="round" stroke-linecap="round"/>
<polyline points="0,435 10,440" fill="none" stroke="#000" stroke-width="8.48" stroke-linejoin="round" stroke-linecap="round"/>
<polyline points="40,465 60,470" fill="none" stroke="#000" stroke-width="9" stroke-linejoin="round" stroke-linecap="round"/>
</g></g>
<g clip-path="url(#c340_45)"><g transform="translate(340,45) scale(0.25)">
<polygon points="-75,80 -65,60 -45,40 -10,35 10,45 20,65 40,70 55,50 70,45 85,60 90,40 115,30 160,30 220,27 215,40 180,45 150,55 130,90 115,120 110,160 100,145 95,115 75,125 50,130 30,150 10,140 -10,120 -35,100 -60,95" fill="#d3d3d3" stroke="#000" stroke-width="7" stroke-linejoin="round"/>
<polyline points="55,50 60,75 80,85 95,115" fill="none" stroke="#000" stroke-width="5" stroke-linejoin="round" stroke-linecap="round"/>
<polyline points="20,65 35,85" fill="none" stroke="#000" stroke-width="5" stroke-linejoin="round" stroke-linecap="round"/>
<polyline points="0,335 30,305 60,295 110,290 135,285 160,250 185,215 210,190" fill="none" stroke="#000" stroke-width="8.48" stroke-linejoin="round" stroke-linecap="round"/>
<polyline points="0,350 25,330 45,310" fill="none" stroke="#000" stroke-width="6" stroke-linejoin="round" stroke-linecap="round"/>
<polyline points="225,442 238,432" fill="none" stroke="#000" stroke-width="8" stroke-linejoin="round" stroke-linecap="round"/>
<polyline points="168,462 172,450" fill="none" stroke="#000" stroke-width="7" stroke-linejoin="round" stroke-linecap="round"/>
<polyline points="18,460 20,420" fill="none" stroke="#000" stroke-width="7" stroke-linejoin="round" stroke-linecap="round"/>
</g></g>
<g clip-path="url(#c340_175)"><g transform="translate(340,175) scale(0.25)">
<polyline points="0,150 30,155 70,180 120,215 175,200 230,235 270,260 265,285 285,315 265,345 225,355 210,400 235,425 280,430 310,465 330,485 360,495 380,520" fill="none" stroke="#000" stroke-width="8.48" stroke-linejoin="round" stroke-linecap="round"/>
<polyline points="550,0 565,45 550,90 520,140 510,180 545,205 575,240 600,260" fill="none" stroke="#000" stroke-width="8.48" stroke-linejoin="round" stroke-linecap="round"/>
<polyline points="600,300 585,315 585,335 595,355 600,360" fill="none" stroke="#000" stroke-width="8.48" stroke-linejoin="round" stroke-linecap="round"/>
<polyline points="320,305 335,288 350,290" fill="none" stroke="#000" stroke-width="8" stroke-linejoin="round" stroke-linecap="round"/>
<polyline points="460,40 462,55" fill="none" stroke="#000" stroke-width="8" stroke-linejoin="round" stroke-linecap="round"/>
<polyline points="420,162 432,158 437,148" fill="none" stroke="#000" stroke-width="8" stroke-linejoin="round" stroke-linecap="round"/>
<polyline points="484,148 490,160" fill="none" stroke="#000" stroke-width="8" stroke-linejoin="round" stroke-linecap="round"/>
<polyline points="190,320 205,318 205,312" fill="none" stroke="#000" stroke-width="8" stroke-linejoin="round" stroke-linecap="round"/>
<polyline points="490,372 495,355" fill="none" stroke="#000" stroke-width="8" stroke-linejoin="round" stroke-linecap="round"/>
<polyline points="520,432 526,405" fill="none" stroke="#000" stroke-width="8" stroke-linejoin="round" stroke-linecap="round"/>
</g></g>
<g clip-path="url(#c340_305)"><g transform="translate(340,305) scale(0.25)">
<polyline points="600,250 590,215 565,205 545,200 540,225 555,235 530,250 500,265 465,280 430,295 405,300 400,320 375,325 355,345 335,350 315,365 290,385 265,375 240,385 215,395 200,420 185,445 175,450" fill="none" stroke="#000" stroke-width="8.48" stroke-linejoin="round" stroke-linecap="round"/>
<polyline points="-5,356 30,372 56,390 104,384 125,395 140,425 150,440 165,455 175,450 160,470 185,490 205,510 215,520" fill="none" stroke="#000" stroke-width="8.48" stroke-linejoin="round" stroke-linecap="round"/>
<polyline points="140,425 135,435 150,450" fill="none" stroke="#000" stroke-width="6" stroke-linejoin="round" stroke-linecap="round"/>
<polyline points="375,0 390,45 440,40 500,30 545,50 600,50" fill="none" stroke="#000" stroke-width="10" stroke-linejoin="round" stroke-linecap="round"/>
</g></g>
<g clip-path="url(#c340_435)"><g transform="translate(340,435) scale(0.25)">
<polyline points="215,0 195,40 195,65 215,85 235,120 260,165 300,185 340,225 375,255 420,290 455,320" fill="none" stroke="#000" stroke-width="8.48" stroke-linejoin="round" stroke-linecap="round"/>
<polyline points="455,320 490,345 500,330 510,355 495,365 530,370 550,385 575,375 600,370" fill="none" stroke="#000" stroke-width="6" stroke-linejoin="round" stroke-linecap="round"/>
<polyline points="455,320 460,350 445,385 430,400 395,385 380,400 385,430 375,455 340,470 300,480 270,505 260,520" fill="none" stroke="#000" stroke-width="8.48" stroke-linejoin="round" stroke-linecap="round"/>
<polyline points="516,100 520,128" fill="none" stroke="#000" stroke-width="8" stroke-linejoin="round" stroke-linecap="round"/>
</g></g>
<g clip-path="url(#c340_520)"><g transform="translate(340,520) scale(0.25)">
<polyline points="440,20 400,40 385,55 380,90 350,115 310,130 270,150 255,175 270,200 295,225 300,260 290,285 320,300 290,295 250,290 240,284" fill="none" stroke="#000" stroke-width="8.48" stroke-linejoin="round" stroke-linecap="round"/>
<polyline points="255,210 262,222" fill="none" stroke="#000" stroke-width="8" stroke-linejoin="round" stroke-linecap="round"/>
<polyline points="365,245 385,260" fill="none" stroke="#000" stroke-width="9" stroke-linejoin="round" stroke-linecap="round"/>
<polyline points="375,268 388,275" fill="none" stroke="#000" stroke-width="8" stroke-linejoin="round" stroke-linecap="round"/>
<polyline points="400,250 410,218" fill="none" stroke="#000" stroke-width="9" stroke-linejoin="round" stroke-linecap="round"/>
<polyline points="447,225 450,250" fill="none" stroke="#000" stroke-width="8" stroke-linejoin="round" stroke-linecap="round"/>
<polyline points="0,478 60,475 100,470 140,455 160,460 150,470 100,478" fill="none" stroke="#000" stroke-width="6" stroke-linejoin="round" stroke-linecap="round"/>
</g></g>
<g clip-path="url(#c450_45)"><g transform="translate(450,45) scale(0.25)">
<polyline points="240,310 300,290 350,275 390,265 420,262" fill="none" stroke="#000" stroke-width="6.5" stroke-linejoin="round" stroke-linecap="round"/>
<polyline points="385,503 415,517" fill="none" stroke="#000" stroke-width="7" stroke-linejoin="round" stroke-linecap="round"/>
<polyline points="230,26 250,30" fill="none" stroke="#000" stroke-width="6" stroke-linejoin="round" stroke-linecap="round"/>
</g></g>
<g clip-path="url(#c450_175)"><g transform="translate(450,175) scale(0.25)">
<polyline points="110,0 125,45 105,95 75,140 70,180 105,205 135,240 160,262 150,320 155,355 180,370 185,430 175,480 165,520" fill="none" stroke="#000" stroke-width="8.48" stroke-linejoin="round" stroke-linecap="round"/>
<polyline points="212,30 208,65" fill="none" stroke="#000" stroke-width="10" stroke-linejoin="round" stroke-linecap="round"/>
<polyline points="163,0 168,8" fill="none" stroke="#000" stroke-width="8" stroke-linejoin="round" stroke-linecap="round"/>
<polyline points="405,460 416,465" fill="none" stroke="#000" stroke-width="6" stroke-linejoin="round" stroke-linecap="round"/>
</g></g>
<g clip-path="url(#c450_305)"><g transform="translate(450,305) scale(0.25)">
<polyline points="150,238 160,240 190,245 195,265 225,250 235,230 230,200 240,150 230,110 220,70 180,45 185,10 175,0" fill="none" stroke="#000" stroke-width="8.48" stroke-linejoin="round" stroke-linecap="round"/>
<polyline points="140,50 160,48 180,45" fill="none" stroke="#000" stroke-width="10" stroke-linejoin="round" stroke-linecap="round"/>
<polyline points="230,210 260,210 285,225 290,255 305,270 340,275 380,290 395,305 416,305" fill="none" stroke="#000" stroke-width="6" stroke-linejoin="round" stroke-linecap="round"/>
</g></g>
<g clip-path="url(#c450_435)"><g transform="translate(450,435) scale(0.25)">
<polyline points="130,370 160,375 178,380 185,345 200,328 222,325 228,265 250,265 262,278 285,270 320,285 360,300 385,298 416,322" fill="none" stroke="#000" stroke-width="6" stroke-linejoin="round" stroke-linecap="round"/>
</g></g>
<g><g transform="translate(280,540) scale(0.2)">
<polyline points="0,340 30,350 60,330 85,300 110,310 150,300 185,305 190,320 250,325 300,320 350,300 400,290 440,285 490,280 495,255 520,265 560,265 600,255" fill="none" stroke="#000" stroke-width="10.6" stroke-linejoin="round" stroke-linecap="round"/>
<polyline points="237,130 245,175" fill="none" stroke="#000" stroke-width="11" stroke-linejoin="round" stroke-linecap="round"/>
<polyline points="286,165 281,210" fill="none" stroke="#000" stroke-width="10" stroke-linejoin="round" stroke-linecap="round"/>
<polyline points="535,195 548,182 565,185 558,202 540,208 535,195" fill="none" stroke="#000" stroke-width="7" stroke-linejoin="round" stroke-linecap="round"/>
<polyline points="20,398 40,388 60,385" fill="none" stroke="#000" stroke-width="7" stroke-linejoin="round" stroke-linecap="round"/>
<polyline points="330,495 400,490 440,475 490,465 495,480 440,495 400,498" fill="none" stroke="#000" stroke-width="7" stroke-linejoin="round" stroke-linecap="round"/>
</g></g>
<g><g transform="translate(280,250) scale(0.2)">
</g></g>
<g><g transform="translate(390,70) scale(0.2)">
<polyline points="12,112 40,122 80,128 130,140" fill="none" stroke="#000" stroke-width="9" stroke-linejoin="round" stroke-linecap="round"/>
<polyline points="0,140 30,150 70,148 110,155 140,165" fill="none" stroke="#000" stroke-width="9" stroke-linejoin="round" stroke-linecap="round"/>
<polyline points="10,115 15,138" fill="none" stroke="#000" stroke-width="8" stroke-linejoin="round" stroke-linecap="round"/>
<polyline points="60,128 65,150" fill="none" stroke="#000" stroke-width="8" stroke-linejoin="round" stroke-linecap="round"/>
<polyline points="150,70 145,100 160,130 185,150 215,140 240,160 275,170 290,150 285,120 270,100 280,80 265,70 245,80 240,100 215,105 190,95 170,100 150,70" fill="none" stroke="#000" stroke-width="10.6" stroke-linejoin="round" stroke-linecap="round"/>
<polyline points="170,110 180,128" fill="none" stroke="#000" stroke-width="9" stroke-linejoin="round" stroke-linecap="round"/>
<polyline points="225,118 245,130" fill="none" stroke="#000" stroke-width="10" stroke-linejoin="round" stroke-linecap="round"/>
<polyline points="265,180 290,186" fill="none" stroke="#000" stroke-width="11" stroke-linejoin="round" stroke-linecap="round"/>
<polyline points="200,150 215,165" fill="none" stroke="#000" stroke-width="9" stroke-linejoin="round" stroke-linecap="round"/>
<polyline points="130,145 150,180 175,205 195,218 215,205 235,215 225,245 240,272 265,255 300,240 320,270 340,290" fill="none" stroke="#000" stroke-width="10.6" stroke-linejoin="round" stroke-linecap="round"/>
<polyline points="140,165 165,195 185,210" fill="none" stroke="#000" stroke-width="8" stroke-linejoin="round" stroke-linecap="round"/>
<polyline points="310,290 330,310 345,300 360,320 340,340 320,330 310,350 330,370 370,380 400,395 420,380 410,350 395,335 380,320 360,300 340,285 310,290" fill="none" stroke="#000" stroke-width="10.6" stroke-linejoin="round" stroke-linecap="round"/>
<polyline points="320,270 350,280 380,310 400,330 430,340 460,335 480,320 520,300 560,280 600,265" fill="none" stroke="#000" stroke-width="10.6" stroke-linejoin="round" stroke-linecap="round"/>
<polyline points="320,330 345,355 380,360 405,345" fill="none" stroke="#000" stroke-width="8" stroke-linejoin="round" stroke-linecap="round"/>
<polyline points="430,340 440,365 425,385 445,410 470,425 490,440 495,420 485,395 500,370 520,330 535,295" fill="none" stroke="#000" stroke-width="10.6" stroke-linejoin="round" stroke-linecap="round"/>
<polyline points="405,335 415,365 440,368" fill="none" stroke="#000" stroke-width="8" stroke-linejoin="round" stroke-linecap="round"/>
<polyline points="520,300 525,330" fill="none" stroke="#000" stroke-width="12" stroke-linejoin="round" stroke-linecap="round"/>
<polyline points="410,395 425,430 435,470 445,520" fill="none" stroke="#000" stroke-width="10.6" stroke-linejoin="round" stroke-linecap="round"/>
<polyline points="400,395 380,400 350,395" fill="none" stroke="#000" stroke-width="8" stroke-linejoin="round" stroke-linecap="round"/>
<polyline points="83,388 90,372 102,366 98,380 83,388" fill="none" stroke="#000" stroke-width="7" stroke-linejoin="round" stroke-linecap="round"/>
<polyline points="30,432 45,412" fill="none" stroke="#000" stroke-width="10" stroke-linejoin="round" stroke-linecap="round"/>
<polyline points="165,500 180,482" fill="none" stroke="#000" stroke-width="10" stroke-linejoin="round" stroke-linecap="round"/>
<polyline points="0,495 20,492 40,500" fill="none" stroke="#000" stroke-width="9" stroke-linejoin="round" stroke-linecap="round"/>
<polyline points="505,520 512,490 520,520" fill="none" stroke="#000" stroke-width="7" stroke-linejoin="round" stroke-linecap="round"/>
</g></g>
<g><g transform="translate(220,390) scale(0.2)">
</g></g>
<g><g transform="translate(320,160) scale(0.2)">
<polyline points="350,47 365,40 385,45 400,55 415,70 427,90 412,112" fill="none" stroke="#000" stroke-width="8" stroke-linejoin="round" stroke-linecap="round"/>
<polyline points="380,62 395,80 405,100" fill="none" stroke="#000" stroke-width="7" stroke-linejoin="round" stroke-linecap="round"/>
<polyline points="313,45 320,82" fill="none" stroke="#000" stroke-width="10" stroke-linejoin="round" stroke-linecap="round"/>
<polyline points="300,10 318,0" fill="none" stroke="#000" stroke-width="7" stroke-linejoin="round" stroke-linecap="round"/>
<polyline points="518,55 530,32" fill="none" stroke="#000" stroke-width="10" stroke-linejoin="round" stroke-linecap="round"/>
</g></g>
</g>
<circle cx="371.4" cy="117.7" r="4.3" fill="#f00" stroke="#000" stroke-width="1.5"/>
<circle cx="275.4" cy="159.7" r="4.3" fill="#f00" stroke="#000" stroke-width="1.5"/>
<circle cx="221.4" cy="204.2" r="4.3" fill="#f00" stroke="#000" stroke-width="1.5"/>
<circle cx="261.4" cy="249.45" r="4.3" fill="#f00" stroke="#000" stroke-width="1.5"/>
<circle cx="428.9" cy="249.45" r="4.3" fill="#f00" stroke="#000" stroke-width="1.5"/>
<circle cx="349.4" cy="276.95" r="4.3" fill="#f00" stroke="#000" stroke-width="1.5"/>
<circle cx="475.65" cy="299.95" r="4.3" fill="#f00" stroke="#000" stroke-width="1.5"/>
<circle cx="150.15" cy="323.7" r="4.3" fill="#f00" stroke="#000" stroke-width="1.5"/>
<circle cx="273.9" cy="321.95" r="4.3" fill="#f00" stroke="#000" stroke-width="1.5"/>
<circle cx="388.9" cy="335.7" r="4.3" fill="#f00" stroke="#000" stroke-width="1.5"/>
<circle cx="448.9" cy="349.45" r="4.3" fill="#f00" stroke="#000" stroke-width="1.5"/>
<circle cx="319.9" cy="360.2" r="4.3" fill="#f00" stroke="#000" stroke-width="1.5"/>
<circle cx="211.4" cy="427.2" r="4.3" fill="#f00" stroke="#000" stroke-width="1.5"/>
<circle cx="325.15" cy="466.2" r="4.3" fill="#f00" stroke="#000" stroke-width="1.5"/>
<circle cx="239.4" cy="513.95" r="4.3" fill="#f00" stroke="#000" stroke-width="1.5"/>
<circle cx="346.9" cy="559.95" r="4.3" fill="#f00" stroke="#000" stroke-width="1.5"/>
<circle cx="176.15" cy="570.7" r="4.3" fill="#f00" stroke="#000" stroke-width="1.5"/>
<text x="373.5" y="117" font-size="14.2" textLength="52.52" lengthAdjust="spacingAndGlyphs" fill-opacity="0.88" stroke="#000" stroke-width="0.3" stroke-opacity="0.8">Rostock</text>
<text x="277.5" y="159" font-size="14.2" textLength="62.608" lengthAdjust="spacingAndGlyphs" fill-opacity="0.88" stroke="#000" stroke-width="0.3" stroke-opacity="0.8">Hamburg</text>
<text x="223.5" y="203.5" font-size="14.2" textLength="51.896" lengthAdjust="spacingAndGlyphs" fill-opacity="0.88" stroke="#000" stroke-width="0.3" stroke-opacity="0.8">Bremen</text>
<text x="263.5" y="248.75" font-size="14.2" textLength="64.896" lengthAdjust="spacingAndGlyphs" fill-opacity="0.88" stroke="#000" stroke-width="0.3" stroke-opacity="0.8">Hannover</text>
<text x="431" y="248.75" font-size="14.2" textLength="40.144" lengthAdjust="spacingAndGlyphs" fill-opacity="0.88" stroke="#000" stroke-width="0.3" stroke-opacity="0.8">Berlin</text>
<text x="351.5" y="276.25" font-size="14.2" textLength="76.648" lengthAdjust="spacingAndGlyphs" fill-opacity="0.88" stroke="#000" stroke-width="0.3" stroke-opacity="0.8">Magdeburg</text>
<text x="477.75" y="299.25" font-size="14.2" textLength="51.584" lengthAdjust="spacingAndGlyphs" fill-opacity="0.88" stroke="#000" stroke-width="0.3" stroke-opacity="0.8">Cottbus</text>
<text x="152.25" y="323" font-size="14.2" textLength="53.768" lengthAdjust="spacingAndGlyphs" fill-opacity="0.88" stroke="#000" stroke-width="0.3" stroke-opacity="0.8">Bochum</text>
<text x="276" y="321.25" font-size="14.2" textLength="73.32" lengthAdjust="spacingAndGlyphs" fill-opacity="0.88" stroke="#000" stroke-width="0.3" stroke-opacity="0.8">Goettingen</text>
<text x="391" y="335" font-size="14.2" textLength="48.152" lengthAdjust="spacingAndGlyphs" fill-opacity="0.88" stroke="#000" stroke-width="0.3" stroke-opacity="0.8">Leipzig</text>
<text x="451" y="348.75" font-size="14.2" textLength="55.432" lengthAdjust="spacingAndGlyphs" fill-opacity="0.88" stroke="#000" stroke-width="0.3" stroke-opacity="0.8">Dresden</text>
<text x="322" y="359.5" font-size="14.2" textLength="40.352" lengthAdjust="spacingAndGlyphs" fill-opacity="0.88" stroke="#000" stroke-width="0.3" stroke-opacity="0.8">Erfurt</text>
<text x="213.5" y="426.5" font-size="14.2" textLength="101.816" lengthAdjust="spacingAndGlyphs" fill-opacity="0.88" stroke="#000" stroke-width="0.3" stroke-opacity="0.8">Frankfurt-Main</text>
<text x="327.25" y="465.5" font-size="14.2" textLength="72.592" lengthAdjust="spacingAndGlyphs" fill-opacity="0.88" stroke="#000" stroke-width="0.3" stroke-opacity="0.8">Nuernberg</text>
<text x="241.5" y="513.25" font-size="14.2" textLength="60.424" lengthAdjust="spacingAndGlyphs" fill-opacity="0.88" stroke="#000" stroke-width="0.3" stroke-opacity="0.8">Stuttgart</text>
<text x="349" y="559.25" font-size="14.2" textLength="69.472" lengthAdjust="spacingAndGlyphs" fill-opacity="0.88" stroke="#000" stroke-width="0.3" stroke-opacity="0.8">Muenchen</text>
<text x="178.25" y="570" font-size="14.2" textLength="58.344" lengthAdjust="spacingAndGlyphs" fill-opacity="0.88" stroke="#000" stroke-width="0.3" stroke-opacity="0.8">Freiburg</text>
<rect x="46" y="51" width="508" height="589" fill="none" stroke="#000" stroke-width="1.6"/>
<rect x="62.5" y="69.5" width="80" height="32" fill="#c3d9df" stroke="#6f7d82" stroke-width="1.3"/>
<circle cx="77.6" cy="86.2" r="5.4" fill="none" stroke="#000" stroke-width="1.3"/><line x1="71.3" y1="92" x2="84.3" y2="80" stroke="#000" stroke-width="1.2"/>
<text x="91.5" y="91.5" font-size="22.2" textLength="43.5" lengthAdjust="spacingAndGlyphs" stroke="#000" stroke-width="0.15">22.2</text>
<text x="203" y="42.3" font-size="29.6" textLength="194" lengthAdjust="spacingAndGlyphs" stroke="#000" stroke-width="0.35">2000-2000 (ja)</text>
<rect x="69.5" y="668.8" width="76.8333" height="29.7" fill="#eeeeab" stroke="#000" stroke-width="1"/>
<rect x="146.333" y="668.8" width="76.8333" height="29.7" fill="#e6bf1c" stroke="#000" stroke-width="1"/>
<rect x="223.167" y="668.8" width="76.8333" height="29.7" fill="#eb690d" stroke="#000" stroke-width="1"/>
<rect x="300" y="668.8" width="76.8333" height="29.7" fill="#bf3861" stroke="#000" stroke-width="1"/>
<rect x="376.833" y="668.8" width="76.8333" height="29.7" fill="#4c26bf" stroke="#000" stroke-width="1"/>
<rect x="453.667" y="668.8" width="76.8333" height="29.7" fill="#1c1a59" stroke="#000" stroke-width="1"/>
<polygon points="69.5,668.8 46.6,683.6 69.5,698.5" fill="#fff" stroke="#000" stroke-width="1.6" stroke-linejoin="miter"/>
<polygon points="530.5,668.8 553.4,683.6 530.5,698.5" fill="#000" stroke="#000" stroke-width="1.6"/>
<rect x="69.5" y="668.8" width="461" height="29.7" fill="none" stroke="#000" stroke-width="1.6"/>
<text x="69.5" y="720" font-size="22" textLength="23.5" lengthAdjust="spacingAndGlyphs" text-anchor="middle">16</text>
<text x="146.333" y="720" font-size="22" textLength="23.5" lengthAdjust="spacingAndGlyphs" text-anchor="middle">18</text>
<text x="223.167" y="720" font-size="22" textLength="23.5" lengthAdjust="spacingAndGlyphs" text-anchor="middle">20</text>
<text x="300" y="720" font-size="22" textLength="23.5" lengthAdjust="spacingAndGlyphs" text-anchor="middle">22</text>
<text x="376.833" y="720" font-size="22" textLength="23.5" lengthAdjust="spacingAndGlyphs" text-anchor="middle">24</text>
<text x="453.667" y="720" font-size="22" textLength="23.5" lengthAdjust="spacingAndGlyphs" text-anchor="middle">26</text>
<text x="530.5" y="720" font-size="22" textLength="23.5" lengthAdjust="spacingAndGlyphs" text-anchor="middle">28</text>
<text x="217" y="749" font-size="24" textLength="166" lengthAdjust="spacingAndGlyphs">wmax99 [m/s]</text>
</svg></body></html>
